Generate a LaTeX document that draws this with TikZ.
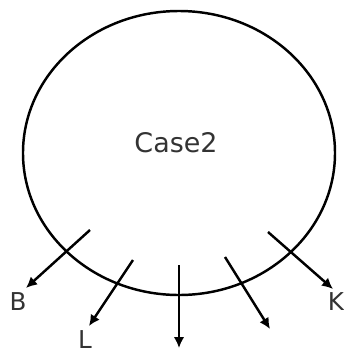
\documentclass[tikz,border=0pt]{standalone}
\usepackage{fontspec}
\setmainfont{DejaVu Sans}
\usetikzlibrary{arrows.meta,shapes.geometric}
\tikzset{state/.style = {shape = ellipse, draw, line width = 2.1pt, minimum width = 9.36cm, minimum height = 8.52cm}}
\tikzset{edge/.style = {-{Latex[length = 0.33cm, width = 0.32cm]}, line width = 2.1pt}}
\tikzset{label/.style = {text = black!80, font = \fontsize{21}{25}\selectfont}}

\begin{document}
\begin{tikzpicture}[x = 0.03cm, y = -0.03cm]
			\useasboundingbox (0, 0) rectangle (344, 354);
			\node[state] (case) at (179, 153) {};
			\node[label, font = \fontsize{23}{28}\selectfont] (name) at (176, 143) {Case2};

			\coordinate (b0) at (90, 230);
			\coordinate (b1) at (26, 288);
			\coordinate (l0) at (133, 260);
			\coordinate (l1) at (89, 326);
			\coordinate (m0) at (179, 265);
			\coordinate (m1) at (179, 348);
			\coordinate (r0) at (225, 257);
			\coordinate (r1) at (270, 329);
			\coordinate (k0) at (268, 232);
			\coordinate (k1) at (333, 289);

			\draw[edge] (b0) -- (b1);
			\draw[edge] (l0) -- (l1);
			\draw[edge] (m0) -- (m1);
			\draw[edge] (r0) -- (r1);
			\draw[edge] (k0) -- (k1);

			\node[label] (b) at (18, 302) {B};
			\node[label] (l) at (85, 340) {L};
			\node[label] (k) at (336, 302) {K};
		\end{tikzpicture}
\end{document}
